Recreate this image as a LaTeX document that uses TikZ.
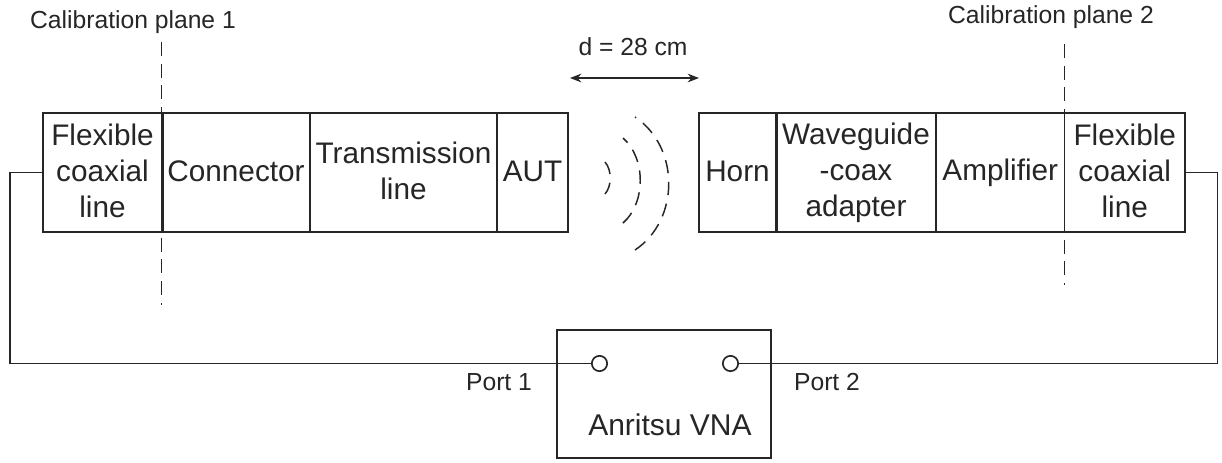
\documentclass[tikz,border=0pt]{standalone}
\usepackage{fontspec}
\setmainfont{Liberation Sans}
\usetikzlibrary{arrows.meta}
\definecolor{ink}{HTML}{262626}
\newcommand{\lowr}{\rule[-2.25pt]{0pt}{2.25pt}}
\tikzset{
  x=0.75pt,y=-0.75pt,
  wire/.style={draw=ink,line width=1.25pt},
  blockbox/.style={draw=ink,line width=1.25pt,minimum height=89.25pt,inner sep=0pt,align=center,text=ink,font=\fontsize{22.3}{27}\selectfont},
  lbl/.style={inner sep=0pt,text=ink,font=\fontsize{18.5}{22}\selectfont},
  port/.style={circle,draw=ink,line width=1.25pt,fill=white,minimum size=11.5pt,inner sep=0pt},
  plane/.style={draw=ink,line width=1.1pt,dash pattern=on 10.5pt off 5.8pt},
  wave/.style={draw=ink,line width=1.1pt,dash pattern=on 10pt off 6.5pt},
}
\begin{document}
\begin{tikzpicture}
\useasboundingbox[fill=white] (0,0) rectangle (1222,462);
% blocks
\node[blockbox,minimum width=89.25pt] (flexa) at (102.5,172.5) {Flexible\\coaxial\\line\lowr};
\node[blockbox,minimum width=111pt] (conn) at (236,172.5) {Connector\lowr};
\node[blockbox,minimum width=140.25pt] (tl) at (403.5,172.5) {Transmission\\line\lowr};
\node[blockbox,minimum width=53.25pt] (aut) at (532.5,172.5) {AUT\lowr};
\node[blockbox,minimum width=57.75pt] (horn) at (737.5,172.5) {Horn\lowr};
\node[blockbox,minimum width=120pt] (wg) at (856,172.5) {Waveguide\\-coax\\adapter};
\node[blockbox,minimum width=96.4pt] (amp) at (1000.25,172.5) {Amplifier};
\node[blockbox,minimum width=90.4pt] (flexb) at (1124.75,172.5) {Flexible\\coaxial\\line\lowr};
% VNA
\node[draw=ink,line width=1.25pt,minimum width=160.5pt,minimum height=96pt,inner sep=0pt] (vna) at (664,394) {};
\node[lbl,font=\fontsize{22.5}{27}\selectfont] (vnatext) at (670,425) {Anritsu VNA};
\node[port] (pa) at (599.5,363.5) {};
\node[port] (pb) at (730.5,363.5) {};
\node[lbl] (pat) at (499,382) {Port 1};
\node[lbl] (pbt) at (827,382) {Port 2};
% wires
\coordinate (lc) at (10,363.5);
\coordinate (rc) at (1217.5,363.5);
\draw[wire] (flexa.west) -- (lc |- flexa.west) -- (lc) -- (pa.west);
\draw[wire] (flexb.east) -- (rc |- flexb.east) -- (rc) -- (pb.east);
% calibration planes
\node[lbl] (cala) at (133,22) {Calibration plane 1};
\node[lbl] (calb) at (1051,17) {Calibration plane 2};
\coordinate (caT) at (161.5,42);
\coordinate (caB) at (161.5,305);
\coordinate (cbT) at (1064.5,44);
\coordinate (cbB) at (1064.5,285);
\draw[plane] (caT) -- (caB);
\draw[plane] (cbT) -- (cbB);
\draw[draw=ink,line width=2.4pt] (flexa.north east) -- (flexa.south east);
\draw[draw=ink,line width=2pt] (horn.north east) -- (horn.south east);
% distance
\node[lbl] (d) at (633,47) {d = 28 cm};
\coordinate (da) at (570,78);
\coordinate (db) at (699,78);
\draw[draw=ink,line width=1.25pt,{Stealth[length=8.5pt,width=6.5pt]}-{Stealth[length=8.5pt,width=6.5pt]}] (da) -- (db);
% waves
\coordinate (w1a) at (635,117); \coordinate (w1b) at (635,250);
\coordinate (w2a) at (623,138); \coordinate (w2b) at (623,223);
\coordinate (w3a) at (605,162); \coordinate (w3b) at (605,194);
\draw[wave] (w1b) .. controls (680,220) and (680,147) .. (w1a);
\draw[wave] (w2b) .. controls (646,203) and (646,158) .. (w2a);
\draw[wave] (w3a) .. controls (612,170) and (612,186) .. (w3b);
\end{tikzpicture}
\end{document}
